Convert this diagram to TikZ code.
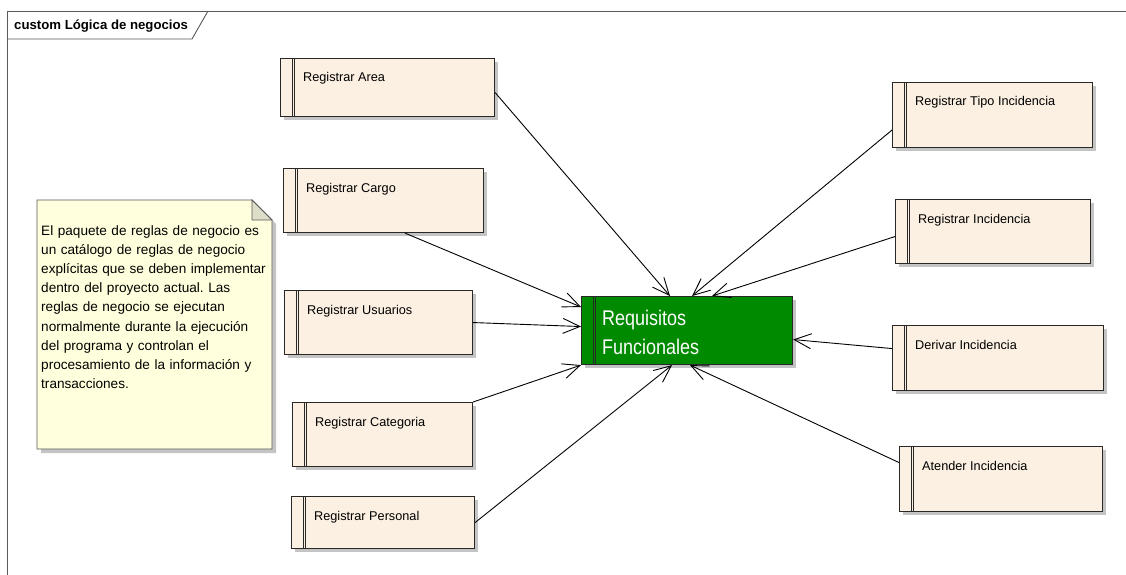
\documentclass[tikz,border=0pt]{standalone}
\usepackage{fontspec}
\setmainfont{Liberation Sans}
\usetikzlibrary{arrows.meta}
\definecolor{boxfill}{RGB}{251,240,225}
\definecolor{notefill}{RGB}{255,255,221}
\definecolor{foldfill}{RGB}{222,222,200}
\definecolor{reqgreen}{RGB}{0,138,0}
\definecolor{shadowgray}{RGB}{196,196,196}
\definecolor{edgedark}{RGB}{40,40,40}
\definecolor{framegray}{RGB}{90,90,90}

\tikzset{
  ucbox/.style={draw=edgedark, line width=1.1pt, fill=boxfill, inner sep=0pt, anchor=north west},
  reqbox/.style={draw=edgedark, line width=1.1pt, fill=reqgreen, inner sep=0pt, anchor=north west},
  boxtext/.style={font=\fontsize{12.7}{15}\selectfont, anchor=base west, inner sep=0pt, text=black},
  conn/.style={draw=black, line width=0.9pt, -{Straight Barb[length=17pt,width=15pt,line width=0.9pt]}},
  shadow/.style={fill=shadowgray, draw=none}
}

% use-case box: name, x1, y1, x2, y2, label
\newcommand\ucbox[6]{%
  \fill[shadow] (#2+4,#3+4) rectangle (#4+4,#5+4);
  \node[ucbox, minimum width={#4-#2}, minimum height={#5-#3}] (#1) at (#2,#3) {};
  \draw[edgedark, line width=0.9pt] ([xshift=12pt]#1.north west) -- ([xshift=12pt]#1.south west);
  \draw[edgedark, line width=0.9pt] ([xshift=14.5pt]#1.north west) -- ([xshift=14.5pt]#1.south west);
  \node[boxtext] (#1-t) at ([xshift=23pt,yshift=-24pt]#1.north west) {#6};
}

\begin{document}
\frenchspacing
\begin{tikzpicture}[x=1pt,y=-1pt]
\useasboundingbox (0,0) rectangle (1126,575);
\fill[white] (0,0) rectangle (1126,575);

% diagram frame and its name tab
\draw[framegray, line width=0.9pt] (7,575) -- (7,11) -- (1126,11);
\draw[framegray, line width=0.9pt] (7,39) -- (192,39) -- (208,11);
\node[font=\bfseries\fontsize{13.2}{15}\selectfont, anchor=base west, inner sep=0pt] (title) at (14,30) {custom Lógica de negocios};

% note
\fill[shadow] (41,204) -- (256,204) -- (276,224) -- (276,453) -- (41,453) -- cycle;
\draw[framegray, fill=notefill, line width=0.8pt] (37,200) -- (252,200) -- (272,220) -- (272,449) -- (37,449) -- cycle;
\draw[framegray, fill=foldfill, line width=0.8pt] (252,200) -- (252,220) -- (272,220) -- cycle;
\node[anchor=north west, inner sep=0pt, text width=250pt, align=left,
      font=\fontsize{13.6}{19.2}\selectfont] (note) at (41,225)
  {El paquete de reglas de negocio es\\
   un catálogo de reglas de negocio\\
   explícitas que se deben implementar\\
   dentro del proyecto actual. Las\\
   reglas de negocio se ejecutan\\
   normalmente durante la ejecución\\
   del programa y controlan el\\
   procesamiento de la información y\\
   transacciones.};

% use cases
\ucbox{area}{280}{58}{494}{116}{Registrar Area}
\ucbox{cargo}{283}{168}{483}{232}{Registrar Cargo}
\ucbox{usuarios}{284}{290}{472}{354}{Registrar Usuarios}
\ucbox{categoria}{292}{402}{472}{466}{Registrar Categoria}
\ucbox{personal}{291}{496}{474}{548}{Registrar Personal}
\ucbox{tipo}{892}{82}{1092}{147}{Registrar Tipo Incidencia}
\ucbox{incid}{895}{199}{1090}{263}{Registrar Incidencia}
\ucbox{derivar}{892}{325}{1103}{390}{Derivar Incidencia}
\ucbox{atender}{899}{446}{1102}{511}{Atender Incidencia}

% central requirement
\fill[shadow] (585,300) rectangle (796,368);
\node[reqbox, minimum width=211, minimum height=68] (req) at (581,296) {};
\draw[edgedark, line width=0.9pt] ([xshift=12pt]req.north west) -- ([xshift=12pt]req.south west);
\draw[edgedark, line width=0.9pt] ([xshift=14.5pt]req.north west) -- ([xshift=14.5pt]req.south west);
\node[anchor=north west, inner sep=0pt, align=left, text=white,
      font=\fontsize{18}{29}\selectfont] (req-t) at (602,310)
  {\scalebox{1}[1.18]{Requisitos}\\\scalebox{1}[1.18]{Funcionales}};

% dependencies
\draw[conn] ([yshift=-5pt]area.east) -- ([xshift=89pt]req.north west);
\draw[conn] ([xshift=122pt]cargo.south west) -- ([yshift=-11pt]req.north west);
\draw[conn] (usuarios.east) -- ([yshift=4pt]req.west);
\draw[conn] (categoria.north east) -- (req.south west);
\draw[conn] (personal.east) -- ([xshift=91pt]req.south west);
\draw[conn] ([yshift=-15pt]tipo.west) -- ([xshift=111pt]req.north west);
\draw[conn] ([yshift=-5pt]incid.west) -- ([xshift=131pt]req.north west);
\draw[conn] ([yshift=9.5pt]derivar.west) -- ([yshift=-9pt]req.east);
\draw[conn] ([yshift=16.5pt]atender.west) -- ([xshift=109pt]req.south west);
\end{tikzpicture}
\end{document}
